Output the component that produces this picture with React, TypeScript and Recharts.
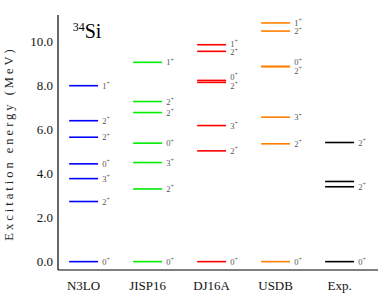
import React from 'react';
import { ComposedChart, XAxis, YAxis, ReferenceLine, ReferenceDot, Scatter } from 'recharts';

// ---- data ----
const models = ['N3LO', 'JISP16', 'DJ16A', 'USDB', 'Exp.'];
const modelColors = ['#0000ff', '#00ee00', '#ff0000', '#ff8000', '#000000'];

const n3loEnergies = [0, 2.73, 3.77, 4.44, 5.65, 6.40, 7.99];
const n3loSpins = ['0', '2', '3', '0', '2', '2', '1'];

const jisp16Energies = [0, 3.30, 4.50, 5.38, 6.77, 7.27, 9.05];
const jisp16Spins = ['0', '2', '3', '0', '2', '2', '1'];

const dj16aEnergies = [0, 5.03, 6.18, 8.14, 8.23, 9.55, 9.85];
const dj16aSpins = ['0', '2', '3', '2', '0', '2', '1'];

const usdbEnergies = [0, 5.35, 6.56, 8.85, 8.87, 10.47, 10.84];
const usdbSpins = ['0', '2', '3', '2', '0', '2', '1'];

const expEnergies = [0, 3.40, 3.64, 5.41];
const expSpins = ['0', '2', '', '2'];

const majorTicks = [0, 2, 4, 6, 8, 10];
const yDomain: [number, number] = [-0.38, 11.2];
const xDomain: [number, number] = [0.6, 5.6];

const allEnergies = [n3loEnergies, jisp16Energies, dj16aEnergies, usdbEnergies, expEnergies];
const allSpins = [n3loSpins, jisp16Spins, dj16aSpins, usdbSpins, expSpins];

const minorTicks: number[] = [];
for (let i = -1; i <= 56; i++) minorTicks.push(Math.round(i * 0.2 * 10) / 10);

const HALF = 0.226; // half width of a level bar in category units
const LABEL_GAP = 0.4; // MeV min separation of labels
const LABEL_DX = 0.065;

const FONT = 'Liberation Serif';

// spread labels of close levels apart (only labelled levels are considered)
function layoutLabels(energies: number[], spins: string[]): number[] {
  const out = energies.slice();
  const all = energies
    .map((_, i) => i)
    .filter((i) => spins[i] !== '')
    .sort((a, b) => energies[a] - energies[b]);
  let i = 0;
  while (i < all.length) {
    let j = i;
    while (j + 1 < all.length && energies[all[j + 1]] - energies[all[j]] < LABEL_GAP) j++;
    const n = j - i + 1;
    if (n > 1) {
      let mean = 0;
      for (let k = i; k <= j; k++) mean += energies[all[k]];
      mean /= n;
      for (let k = i; k <= j; k++) out[all[k]] = mean + (k - i - (n - 1) / 2) * LABEL_GAP;
    }
    i = j + 1;
  }
  return out;
}

type Lvl = { m: number; e: number; spin: string; ly: number; spread: boolean };
const levels: Lvl[] = [];
allEnergies.forEach((energies, m) => {
  const ly = layoutLabels(energies, allSpins[m]);
  energies.forEach((e, i) => {
    levels.push({ m, e, spin: allSpins[m][i], ly: ly[i], spread: Math.abs(ly[i] - e) > 1e-9 });
  });
});

const labelData = levels
  .filter((l) => l.spin !== '')
  .map((l) => ({ x: l.m + 1 + HALF + LABEL_DX, y: l.ly, spin: l.spin, spread: l.spread }));

const SpinText = ({ x, y, spin }: { x: number; y: number; spin: string }) => (
  <text x={x} y={y} dy={3} fontFamily={FONT} fontSize={8.5} fill="#555">
    {spin}
    <tspan fontSize={6} dy={-3.5}>+</tspan>
  </text>
);

// label drawn at its own (spread) position
const SpinLabel = (props: any) => {
  const vb = props.viewBox || {};
  return <SpinText x={vb.x} y={vb.y} spin={props.spin} />;
};

// label attached to the end of the level bar itself
const EndLabel = (props: any) => {
  const vb = props.viewBox || {};
  return <SpinText x={vb.x + vb.width + 4.2} y={vb.y} spin={props.spin} />;
};

const YLabel = (props: any) => {
  const vb = props.viewBox || {};
  const x = 13;
  const y = vb.y + vb.height / 2 + 1;
  return (
    <text
      x={x}
      y={y}
      transform={`rotate(-90, ${x}, ${y})`}
      textAnchor="middle"
      fontFamily={FONT}
      fontSize={12.5}
      letterSpacing={3}
      fill="#222"
    >
      Excitation energy (MeV)
    </text>
  );
};

const NucleusTitle = (props: any) => {
  const { cx, cy } = props;
  return (
    <text x={cx} y={cy} fontFamily={FONT} fill="#000">
      <tspan fontSize={12} dy={-7}>34</tspan>
      <tspan fontSize={20} dy={7}>Si</tspan>
    </text>
  );
};

const AxisTick = (props: any) => {
  const { x, y, payload, textAnchor, dy, fmt } = props;
  return (
    <text x={x} y={y} dy={dy} textAnchor={textAnchor} fontFamily={FONT} fontSize={13} fill="#111">
      {fmt(payload.value)}
    </text>
  );
};

export default function App() {
  return (
    <div style={{ position: 'absolute', left: 0, top: 0, fontFamily: FONT }}>
      <ComposedChart width={382} height={301} margin={{ top: 15, right: 4, bottom: 0, left: 0 }}>
        <XAxis
          xAxisId="x"
          dataKey="x"
          type="number"
          domain={xDomain}
          ticks={[1, 2, 3, 4, 5]}
          interval={0}
          tickLine={false}
          tickSize={6}
          height={31}
          axisLine={{ stroke: '#000', strokeWidth: 1.2 }}
          tick={(p: any) => <AxisTick {...p} dy={12} textAnchor="middle" fmt={(v: number) => models[v - 1]} />}
          allowDataOverflow
        />
        <XAxis xAxisId="top" orientation="top" type="number" domain={xDomain} height={0} tick={false} tickLine={false} axisLine={{ stroke: '#000', strokeWidth: 1.2 }} allowDataOverflow />
        <YAxis
          yAxisId="y"
          dataKey="y"
          type="number"
          domain={yDomain}
          ticks={majorTicks}
          interval={0}
          width={58}
          tickLine={false}
          tickSize={3}
          axisLine={{ stroke: '#000', strokeWidth: 1.2 }}
          tick={(p: any) => <AxisTick {...p} dy={4.5} textAnchor="end" fmt={(v: number) => v.toFixed(1)} />}
          label={<YLabel />}
          allowDataOverflow
        />
        <YAxis yAxisId="minor" type="number" domain={yDomain} ticks={minorTicks} interval={0} mirror width={0} tick={false} tickSize={3} tickLine={{ stroke: '#888', strokeWidth: 0.6 }} axisLine={false} allowDataOverflow />
        <YAxis yAxisId="major" type="number" domain={yDomain} ticks={majorTicks} interval={0} mirror width={0} tick={false} tickSize={5} tickLine={{ stroke: '#444', strokeWidth: 0.8 }} axisLine={false} allowDataOverflow />
        <YAxis yAxisId="right" orientation="right" type="number" domain={yDomain} width={0} tick={false} tickLine={false} axisLine={{ stroke: '#000', strokeWidth: 1.2 }} allowDataOverflow />

        <Scatter
          xAxisId="x"
          yAxisId="y"
          data={labelData}
          dataKey="y"
          shape={() => <g />}
          isAnimationActive={false}
        />

        {levels.map((l, k) => (
          <ReferenceLine
            key={`lvl-${k}`}
            xAxisId="x"
            yAxisId="y"
            segment={[
              { x: l.m + 1 - HALF, y: l.e },
              { x: l.m + 1 + HALF, y: l.e },
            ]}
            stroke={modelColors[l.m]}
            strokeWidth={1.6}
            label={l.spin !== '' && !l.spread ? <EndLabel spin={l.spin} /> : undefined}
          />
        ))}

        {labelData
          .filter((d) => d.spread)
          .map((d, k) => (
            <ReferenceLine
              key={`lab-${k}`}
              xAxisId="x"
              yAxisId="y"
              segment={[
                { x: d.x, y: d.y },
                { x: d.x + 0.01, y: d.y },
              ]}
              stroke="none"
              strokeWidth={0}
              label={<SpinLabel spin={d.spin} />}
            />
          ))}

        <ReferenceDot xAxisId="x" yAxisId="y" x={0.83} y={10.14} r={0} shape={<NucleusTitle />} />
      </ComposedChart>
    </div>
  );
}
